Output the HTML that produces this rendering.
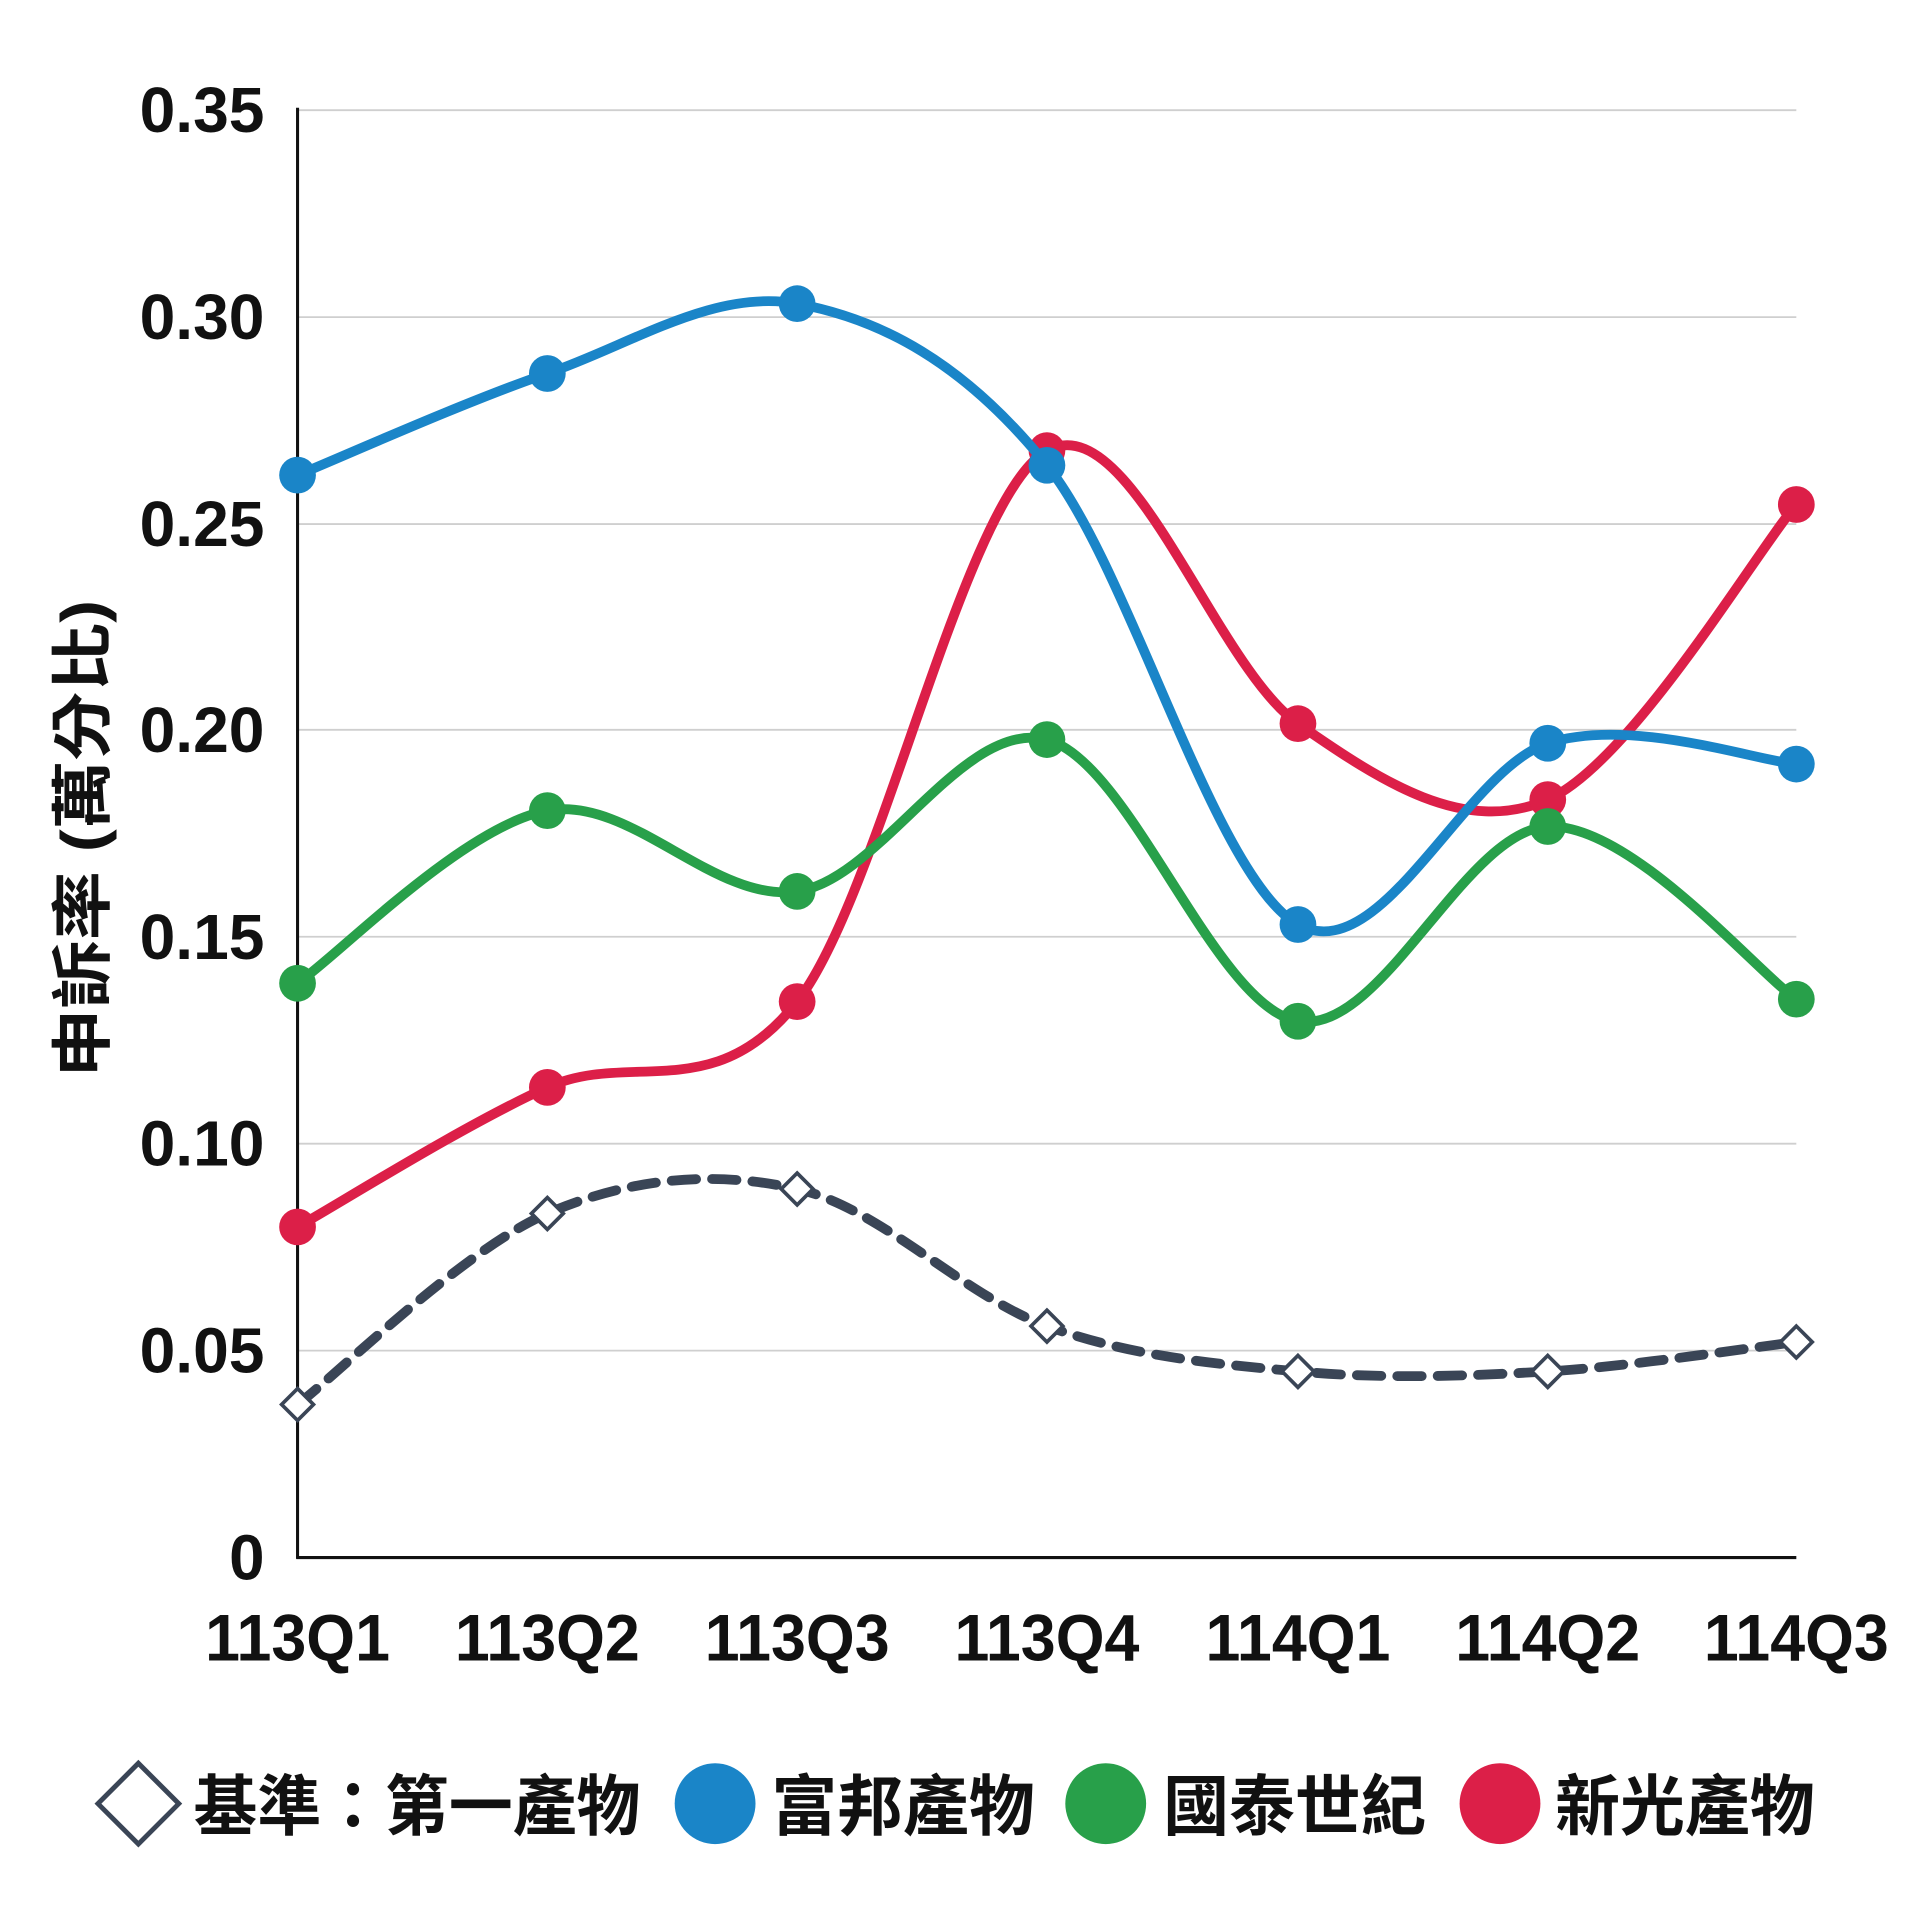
<!DOCTYPE html>
<html><head><meta charset="utf-8"><style>
html,body{margin:0;padding:0;background:#fff;}
svg{display:block}
text{font-family:"Liberation Sans","Noto Sans CJK TC",sans-serif;font-weight:bold;fill:#111}
</style></head><body>
<svg id="s" width="1920" height="1920" viewBox="0 0 1568 1568" xmlns="http://www.w3.org/2000/svg">
<rect width="1568" height="1568" fill="#fff"/>
<g stroke="#cfcfcf" stroke-width="1.5">
<line x1="243" y1="90" x2="1467" y2="90"/><line x1="243" y1="259" x2="1467" y2="259"/>
<line x1="243" y1="428" x2="1467" y2="428"/><line x1="243" y1="596" x2="1467" y2="596"/>
<line x1="243" y1="765" x2="1467" y2="765"/><line x1="243" y1="934" x2="1467" y2="934"/>
<line x1="243" y1="1103" x2="1467" y2="1103"/>
</g>
<line x1="243" y1="88" x2="243" y2="1273" stroke="#111" stroke-width="2.5"/>
<line x1="242" y1="1272" x2="1467" y2="1272" stroke="#111" stroke-width="2.5"/>
<g font-size="52" text-anchor="end">
<text x="216" y="108" textLength="102" lengthAdjust="spacingAndGlyphs">0.35</text>
<text x="216" y="277" textLength="102" lengthAdjust="spacingAndGlyphs">0.30</text>
<text x="216" y="446" textLength="102" lengthAdjust="spacingAndGlyphs">0.25</text>
<text x="216" y="614" textLength="102" lengthAdjust="spacingAndGlyphs">0.20</text>
<text x="216" y="783" textLength="102" lengthAdjust="spacingAndGlyphs">0.15</text>
<text x="216" y="952" textLength="102" lengthAdjust="spacingAndGlyphs">0.10</text>
<text x="216" y="1121" textLength="102" lengthAdjust="spacingAndGlyphs">0.05</text>
<text x="216" y="1290">0</text>
</g>
<g font-size="54" text-anchor="middle">
<text x="243" y="1356" textLength="151" lengthAdjust="spacingAndGlyphs">113Q1</text>
<text x="447" y="1356" textLength="151" lengthAdjust="spacingAndGlyphs">113Q2</text>
<text x="651" y="1356" textLength="151" lengthAdjust="spacingAndGlyphs">113Q3</text>
<text x="855" y="1356" textLength="151" lengthAdjust="spacingAndGlyphs">113Q4</text>
<text x="1060" y="1356" textLength="151" lengthAdjust="spacingAndGlyphs">114Q1</text>
<text x="1264" y="1356" textLength="151" lengthAdjust="spacingAndGlyphs">114Q2</text>
<text x="1467" y="1356" textLength="151" lengthAdjust="spacingAndGlyphs">114Q3</text>
</g>
<text font-size="50" text-anchor="middle" textLength="390" lengthAdjust="spacingAndGlyphs" transform="translate(85,685) rotate(-90)">申訴率 (萬分比)</text>
<g id="series"></g>
<g font-size="54">
<polygon points="113,1440 146,1473 113,1506 80,1473" fill="#fff" stroke="#3a4556" stroke-width="4"/>
<text x="158" y="1494" textLength="365" lengthAdjust="spacingAndGlyphs">基準：第一產物</text>
<circle cx="584" cy="1473" r="33" fill="#1a85c8"/><text x="630" y="1494" textLength="215" lengthAdjust="spacingAndGlyphs">富邦產物</text>
<circle cx="903" cy="1473" r="33" fill="#28a04a"/><text x="950" y="1494" textLength="215" lengthAdjust="spacingAndGlyphs">國泰世紀</text>
<circle cx="1225" cy="1473" r="33" fill="#dc1f48"/><text x="1270" y="1494" textLength="212" lengthAdjust="spacingAndGlyphs">新光產物</text>
</g>
</svg>
<script>
var xs=[243,447,651,855,1060,1264,1467];
var S=[
{c:"#1a85c8",y:[388,305,248,380,755,607,624]},
{c:"#28a04a",y:[803,662,728,604,834,675,816]},
{c:"#dc1f48",y:[1002,888,818,368,591,653,412]},
{c:"#3a4556",y:[1147,991,971,1083,1120,1120,1096],dash:1}];
function path(y){var p="M"+xs[0]+","+y[0];for(var i=0;i<6;i++){var x0=xs[Math.max(i-1,0)],y0=y[Math.max(i-1,0)],x1=xs[i],y1=y[i],x2=xs[i+1],y2=y[i+1],x3=xs[Math.min(i+2,6)],y3=y[Math.min(i+2,6)];
p+=" C"+(x1+(x2-x0)/6)+","+(y1+(y2-y0)/6)+" "+(x2-(x3-x1)/6)+","+(y2-(y3-y1)/6)+" "+x2+","+y2;}return p;}
var g=document.getElementById("series"),h="";
S.slice().reverse().forEach(function(s){
h+='<path d="'+path(s.y)+'" fill="none" stroke="'+s.c+'" stroke-width="8" stroke-linecap="round"'+(s.dash?' stroke-dasharray="20 13"':'')+'/>';
s.y.forEach(function(v,i){if(s.dash){var x=xs[i];h+='<polygon points="'+x+','+(v-13)+' '+(x+13)+','+v+' '+x+','+(v+13)+' '+(x-13)+','+v+'" fill="#fff" stroke="#3a4556" stroke-width="3"/>';}
else h+='<circle cx="'+xs[i]+'" cy="'+v+'" r="15" fill="'+s.c+'"/>';});});
g.innerHTML=h;
</script>
</body></html>
